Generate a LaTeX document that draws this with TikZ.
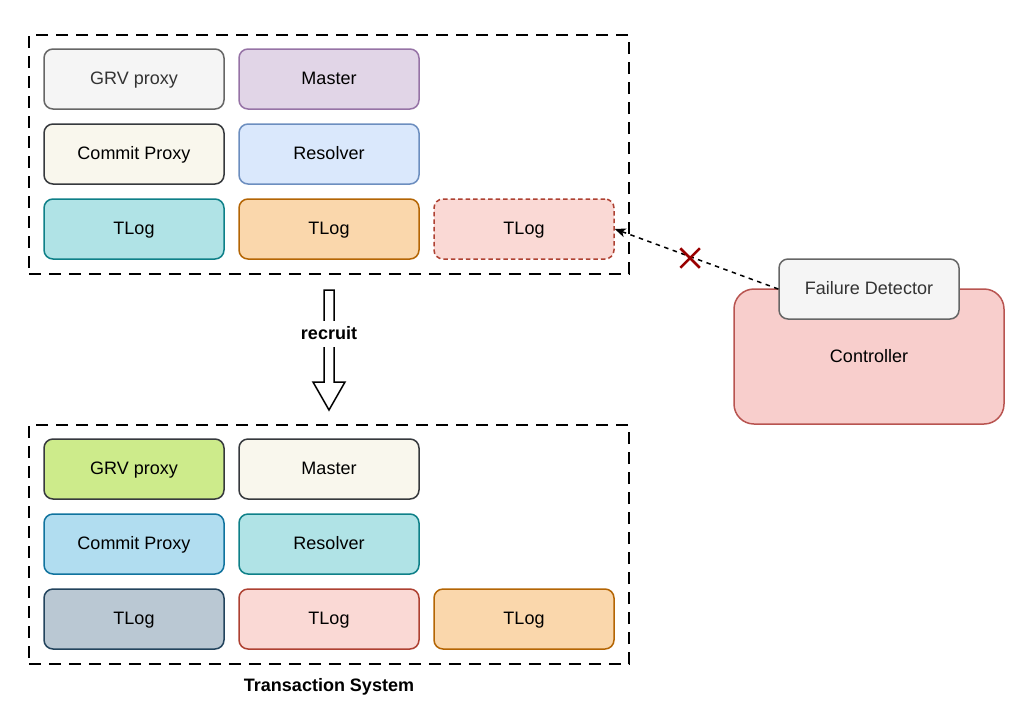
\documentclass[tikz,border=0pt]{standalone}
\usepackage{fontspec}
\setmainfont{Liberation Sans}
\usetikzlibrary{arrows.meta,shapes.misc}

\definecolor{grvfill}{HTML}{F5F5F5}\definecolor{grvdraw}{HTML}{666666}
\definecolor{mastfill}{HTML}{E1D5E7}\definecolor{mastdraw}{HTML}{9673A6}
\definecolor{beigefill}{HTML}{F9F7ED}\definecolor{darkdraw}{HTML}{36393D}
\definecolor{resfill}{HTML}{DAE8FC}\definecolor{resdraw}{HTML}{6C8EBF}
\definecolor{tealfill}{HTML}{B0E3E6}\definecolor{tealdraw}{HTML}{0E8088}
\definecolor{orfill}{HTML}{FAD7AC}\definecolor{ordraw}{HTML}{B46504}
\definecolor{pinkfill}{HTML}{FAD9D5}\definecolor{pinkdraw}{HTML}{AE4132}
\definecolor{limefill}{HTML}{CDEB8B}
\definecolor{bluefill}{HTML}{B1DDF0}\definecolor{bluedraw}{HTML}{10739E}
\definecolor{slatefill}{HTML}{BAC8D3}\definecolor{slatedraw}{HTML}{23445D}
\definecolor{ctrlfill}{HTML}{F8CECC}\definecolor{ctrldraw}{HTML}{B85450}
\definecolor{greytext}{HTML}{333333}
\definecolor{crossred}{HTML}{990000}

\begin{document}
\begin{tikzpicture}[x=1pt,y=-1pt]
\tikzstyle{role}=[draw,rounded corners=9pt,line width=1.5pt,minimum width=180pt,minimum height=60pt,font=\fontsize{18}{21}\selectfont,inner sep=0pt,text height=16.3pt,text depth=5.3pt]
\tikzstyle{groupe}=[draw,line width=1.5pt,dash pattern=on 12pt off 8pt,minimum width=600pt,minimum height=239pt,inner sep=0pt]
\tikzstyle{titre}=[font=\fontsize{18}{21}\selectfont\bfseries,text height=16.3pt,text depth=5.3pt]
\tikzstyle{fleche}=[line width=1.5pt,dash pattern=on 4.5pt off 4.5pt,-{Stealth[length=11pt,width=9pt,inset=3pt]}]

\useasboundingbox (0,0) rectangle (1032,726);

\def\ca{134}
\def\cb{329}
\def\cc{524}

% old transaction system
\node[groupe] (old) at (329,154.5) {};
\node[role,fill=grvfill,draw=grvdraw,text=greytext] (grv1) at (\ca,79) {GRV proxy};
\node[role,fill=mastfill,draw=mastdraw] (master1) at (\cb,79) {Master};
\node[role,fill=beigefill,draw=darkdraw] (cp1) at (\ca,154) {Commit Proxy};
\node[role,fill=resfill,draw=resdraw] (res1) at (\cb,154) {Resolver};
\node[role,fill=tealfill,draw=tealdraw] (tlogA) at (\ca,229) {TLog};
\node[role,fill=orfill,draw=ordraw] (tlogB) at (\cb,229) {TLog};
\node[role,fill=pinkfill,draw=pinkdraw,dash pattern=on 4.5pt off 3pt] (tlogC) at (\cc,229) {TLog};

% new transaction system
\node[groupe] (new) at (329,544.5) {};
\node[role,fill=limefill,draw=darkdraw] (grv2) at (\ca,469) {GRV proxy};
\node[role,fill=beigefill,draw=darkdraw] (master2) at (\cb,469) {Master};
\node[role,fill=bluefill,draw=bluedraw] (cp2) at (\ca,544) {Commit Proxy};
\node[role,fill=tealfill,draw=tealdraw] (res2) at (\cb,544) {Resolver};
\node[role,fill=slatefill,draw=slatedraw] (tlogD) at (\ca,619) {TLog};
\node[role,fill=pinkfill,draw=pinkdraw] (tlogE) at (\cb,619) {TLog};
\node[role,fill=orfill,draw=ordraw] (tlogF) at (\cc,619) {TLog};
\node[titre] (ts) at (329,686) {Transaction System};

% recruit arrow
\coordinate (rs) at (329,290);
\draw[line width=1.5pt,fill=white] (rs) ++(-5,0) -- ++(10,0) -- ++(0,92) -- ++(11,0)
  -- (329,410) -- ++(-16,-28) -- ++(11,0) -- cycle;
\node[titre,fill=white,inner sep=2pt] (rec) at (329,334) {recruit};

% controller
\node[role,fill=ctrlfill,draw=ctrldraw,rounded corners=20pt,minimum width=270pt,minimum height=135pt] (ctrl) at (869,356.5) {Controller};
\node[role,fill=grvfill,draw=grvdraw,text=greytext] (fd) at (869,289) {Failure Detector};
\draw[fleche] (fd.west) -- (tlogC.east);
\node[cross out,draw=crossred,line width=2.5pt,minimum size=17pt,inner sep=0pt] (cut) at (690,258) {};

\end{tikzpicture}
\end{document}
